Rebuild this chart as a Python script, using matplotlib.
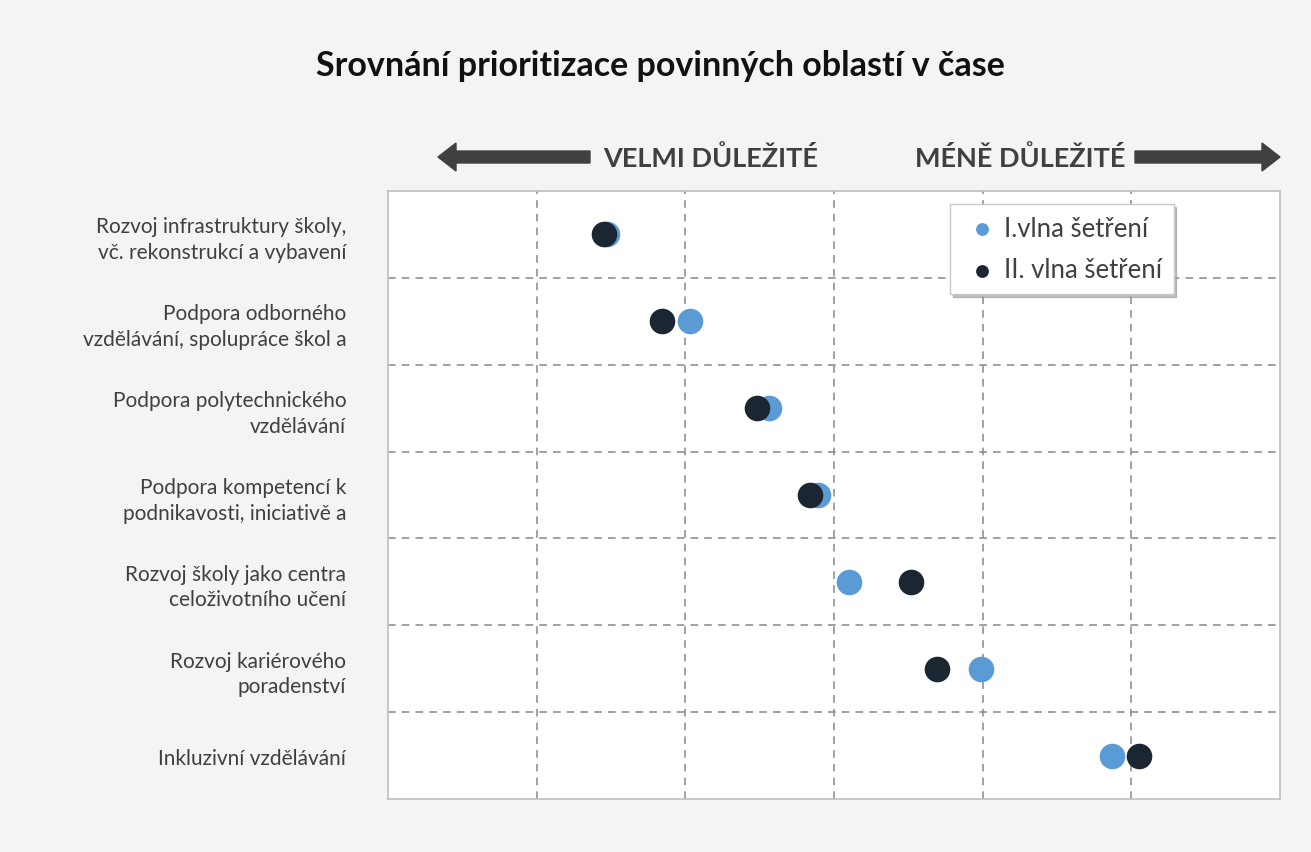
import matplotlib
matplotlib.use("Agg")
import matplotlib.pyplot as plt
from matplotlib.patches import FancyArrow
import numpy as np

plt.rcParams['font.family'] = ['Lato', 'DejaVu Sans']

categories = [
    "Rozvoj infrastruktury školy,\nvč. rekonstrukcí a vybavení",
    "Podpora odborného\nvzdělávání, spolupráce škol a",
    "Podpora polytechnického\nvzdělávání",
    "Podpora kompetencí k\npodnikavosti, iniciativě a",
    "Rozvoj školy jako centra\nceloživotního učení",
    "Rozvoj kariérového\nporadenství",
    "Inkluzivní vzdělávání",
]
wave1 = [1.47, 2.03, 2.56, 2.89, 3.10, 3.99, 4.87]
wave2 = [1.45, 1.84, 2.48, 2.84, 3.52, 3.69, 5.05]
series_names = ["I.vlna šetření", "II. vlna šetření"]

blue = "#5b9bd5"
dark = "#1c2633"
txt = "#404040"

fig = plt.figure(figsize=(13.11, 8.53), dpi=100)
fig.patch.set_facecolor("#f4f4f4")
ax = fig.add_axes([388/1311, 1-800/853, (1280-388)/1311, (800-192)/853])
ax.set_facecolor("white")

ypos = np.arange(1, len(categories)+1)
ax.scatter(wave1, ypos, s=340, color=blue, zorder=3, label=series_names[0], linewidths=0)
ax.scatter(wave2, ypos, s=340, color=dark, zorder=4, label=series_names[1], linewidths=0)

ax.set_xlim(0, 6)
ax.set_ylim(len(categories)+0.5, 0.5)
ax.set_xticks([1, 2, 3, 4, 5])
ax.set_xticklabels([])
ax.set_yticks(ypos)
ax.set_yticklabels(categories, fontsize=15, color=txt, linespacing=1.35)
ax.set_yticks(np.arange(1.5, len(categories)), minor=True)
ax.tick_params(axis='y', which='both', length=0, pad=30)
ax.tick_params(axis='x', length=0)
ax.grid(True, axis='x', which='major', color="#888888", linestyle=(0, (5, 4)), linewidth=1.1)
ax.grid(True, axis='y', which='minor', color="#888888", linestyle=(0, (5, 4)), linewidth=1.1)
ax.grid(False, axis='y', which='major')
for sp in ax.spines.values():
    sp.set_color("#bfbfbf")
    sp.set_linewidth(1.2)

leg = ax.legend(loc='upper left', bbox_to_anchor=((950-388)/892, 1-(205-192)/608),
                fontsize=18.5, frameon=True, fancybox=False, labelspacing=0.65,
                handletextpad=0.05, borderpad=0.45, borderaxespad=0, markerscale=0.5,
                labelcolor=txt, handlelength=1.6,
                shadow={'color': '#999999', 'alpha': 0.6})
leg.get_frame().set_edgecolor("#c8c8c8")
leg.get_frame().set_linewidth(1.0)

fig.text(660/1311, 1-66/853, "Srovnání prioritizace povinných oblastí v čase",
         ha='center', va='center', fontsize=24.5, fontweight='bold', color="#111111")

# arrows row
ya = 1-158/853
fig.text(711/1311, ya, "VELMI DŮLEŽITÉ", ha='center', va='center', fontsize=19.5,
         fontweight='bold', color=txt)
fig.text(1020/1311, ya, "MÉNĚ DŮLEŽITÉ", ha='center', va='center', fontsize=19.5,
         fontweight='bold', color=txt)
aw = 12/853
hw = 28/853
hl = 18/1311
fig.patches.append(FancyArrow(590/1311, ya, -(590-438)/1311, 0, width=aw, head_width=hw,
                              head_length=hl, length_includes_head=True, color=txt,
                              transform=fig.transFigure, figure=fig))
fig.patches.append(FancyArrow(1135/1311, ya, (1280-1135)/1311, 0, width=aw, head_width=hw,
                              head_length=hl, length_includes_head=True, color=txt,
                              transform=fig.transFigure, figure=fig))

fig.savefig("out.png", dpi=100, facecolor=fig.get_facecolor())
